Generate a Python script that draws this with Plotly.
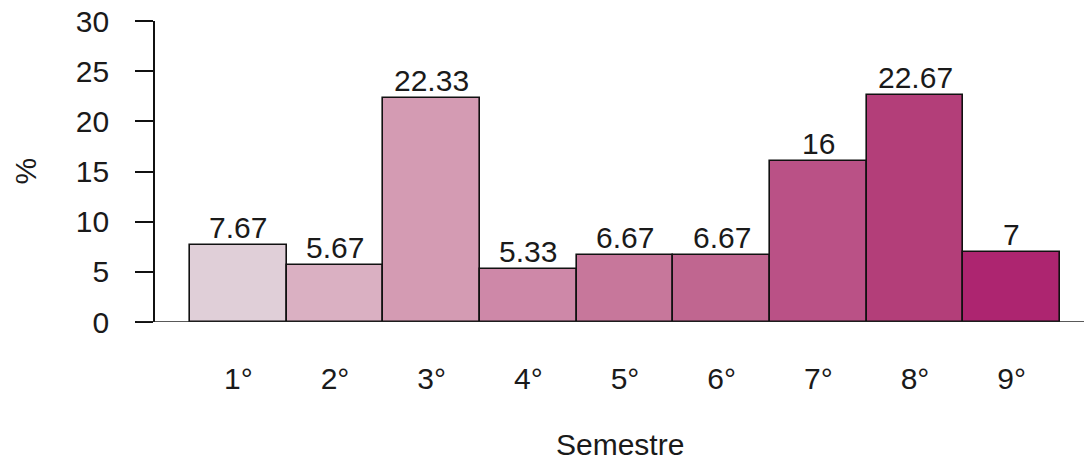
import plotly.graph_objects as go

# Distribution of students by semester (%)
semestres = ["1°", "2°", "3°", "4°", "5°", "6°", "7°", "8°", "9°"]
porcentajes = [7.67, 5.67, 22.33, 5.33, 6.67, 6.67, 16, 22.67, 7]
etiquetas = ["7.67", "5.67", "22.33", "5.33", "6.67", "6.67", "16", "22.67", "7"]
colores = ["#E0CFD8", "#DAB0C2", "#D49BB3", "#CE88A8", "#C7779B",
           "#C06690", "#BA5186", "#B33E79", "#AD2570"]
y_ticks = [0, 5, 10, 15, 20, 25, 30]

FONT = "Liberation Sans, Arial, sans-serif"
FS = 30
INK = "#1a1a1a"

fig = go.Figure(
    go.Bar(
        x=semestres,
        y=porcentajes,
        marker=dict(color=colores, line=dict(color="#111111", width=1.6)),
        hoverinfo="skip",
    )
)

# value labels just above each bar
for s, v, t in zip(semestres, porcentajes, etiquetas):
    fig.add_annotation(
        x=s, y=v, text=t, showarrow=False,
        xanchor="center", yanchor="bottom", yshift=-1,
        font=dict(family=FONT, size=FS, color=INK),
    )

fig.update_layout(
    width=1084,
    height=461,
    margin=dict(l=155, r=0, t=21, b=139),
    paper_bgcolor="white",
    plot_bgcolor="white",
    bargap=0,
    showlegend=False,
    font=dict(family=FONT, size=FS, color=INK),
)

fig.update_xaxes(
    type="category",
    range=[-0.862, 8.748],
    showline=False,
    showgrid=False,
    zeroline=False,
    ticks="",
    ticklabelstandoff=36,
    tickfont=dict(family=FONT, size=FS, color=INK),
)

fig.update_yaxes(
    range=[0, 30],
    tickvals=y_ticks,
    ticktext=[str(v) for v in y_ticks],
    showline=True,
    linecolor="#111111",
    linewidth=1.6,
    ticks="outside",
    ticklen=18,
    tickwidth=1.6,
    tickcolor="#111111",
    ticklabelstandoff=20,
    showgrid=False,
    zeroline=False,
    tickfont=dict(family=FONT, size=FS, color=INK),
)

# baseline across the plotting region
fig.add_shape(
    type="line", xref="paper", yref="y",
    x0=-0.0194, x1=1.0, y0=0, y1=0,
    line=dict(color="#222222", width=1.6),
)

# axis titles
fig.add_annotation(
    text="%", xref="paper", yref="paper", x=0, y=0.5,
    xshift=-130, textangle=-90, showarrow=False,
    xanchor="center", yanchor="middle",
    font=dict(family=FONT, size=FS, color=INK),
)
fig.add_annotation(
    text="Semestre", xref="paper", yref="paper", x=0.5, y=0,
    yshift=-122, showarrow=False,
    xanchor="center", yanchor="middle",
    font=dict(family=FONT, size=FS, color=INK),
)

fig.write_html("out.html")
